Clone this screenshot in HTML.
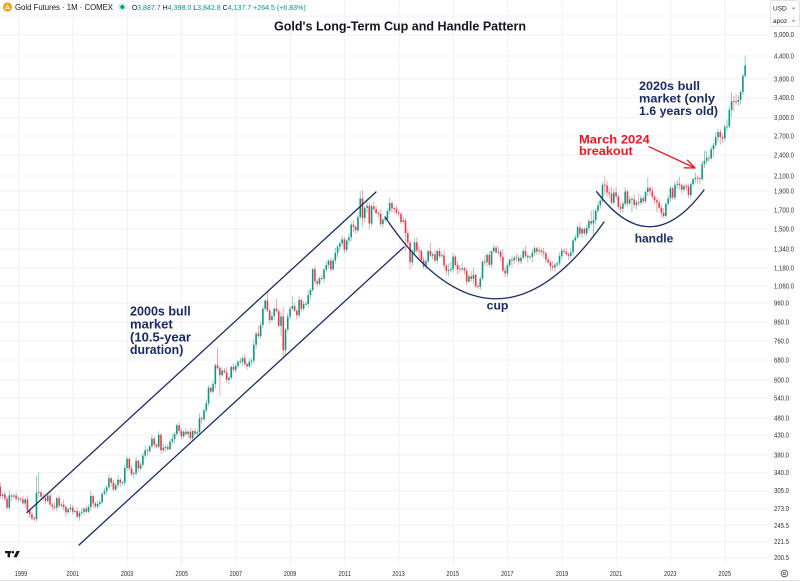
<!DOCTYPE html>
<html><head><meta charset="utf-8"><title>Gold's Long-Term Cup and Handle Pattern</title>
<style>
html,body{margin:0;padding:0;background:#fff;}
svg{display:block;font-family:"Liberation Sans",sans-serif;}
.ub{stroke:#089981;stroke-width:1.6;fill:none}
.uw{stroke:#089981;stroke-width:.8;stroke-opacity:.55;fill:none}
.db{stroke:#f23645;stroke-width:1.6;fill:none}
.dw{stroke:#f23645;stroke-width:.8;stroke-opacity:.55;fill:none}
</style></head><body>
<svg width="800" height="582" viewBox="0 0 800 582" xmlns="http://www.w3.org/2000/svg">
<rect width="800" height="582" fill="#ffffff"/>
<g stroke="#f0f2f7" stroke-width="1">
<line x1="0" x2="768" y1="16" y2="16"/>
<line x1="0" x2="768" y1="34.7" y2="34.7"/>
<line x1="0" x2="768" y1="56" y2="56"/>
<line x1="0" x2="768" y1="79" y2="79"/>
<line x1="0" x2="768" y1="97.7" y2="97.7"/>
<line x1="0" x2="768" y1="117.7" y2="117.7"/>
<line x1="0" x2="768" y1="136" y2="136"/>
<line x1="0" x2="768" y1="155" y2="155"/>
<line x1="0" x2="768" y1="176" y2="176"/>
<line x1="0" x2="768" y1="191" y2="191"/>
<line x1="0" x2="768" y1="210" y2="210"/>
<line x1="0" x2="768" y1="229" y2="229"/>
<line x1="0" x2="768" y1="249" y2="249"/>
<line x1="0" x2="768" y1="268" y2="268"/>
<line x1="0" x2="768" y1="286" y2="286"/>
<line x1="0" x2="768" y1="303" y2="303"/>
<line x1="0" x2="768" y1="322" y2="322"/>
<line x1="0" x2="768" y1="341" y2="341"/>
<line x1="0" x2="768" y1="360" y2="360"/>
<line x1="0" x2="768" y1="380" y2="380"/>
<line x1="0" x2="768" y1="398" y2="398"/>
<line x1="0" x2="768" y1="418" y2="418"/>
<line x1="0" x2="768" y1="435" y2="435"/>
<line x1="0" x2="768" y1="455" y2="455"/>
<line x1="0" x2="768" y1="472.7" y2="472.7"/>
<line x1="0" x2="768" y1="490.7" y2="490.7"/>
<line x1="0" x2="768" y1="508.3" y2="508.3"/>
<line x1="0" x2="768" y1="525.3" y2="525.3"/>
<line x1="0" x2="768" y1="541.7" y2="541.7"/>
<line x1="0" x2="768" y1="557.7" y2="557.7"/>
</g>
<g stroke="#f0f2f7" stroke-width="1">
<line x1="19" x2="19" y1="0" y2="566"/>
<line x1="73" x2="73" y1="0" y2="566"/>
<line x1="127.3" x2="127.3" y1="0" y2="566"/>
<line x1="181.7" x2="181.7" y1="0" y2="566"/>
<line x1="236" x2="236" y1="0" y2="566"/>
<line x1="290.4" x2="290.4" y1="0" y2="566"/>
<line x1="344.7" x2="344.7" y1="0" y2="566"/>
<line x1="399" x2="399" y1="0" y2="566"/>
<line x1="453.4" x2="453.4" y1="0" y2="566"/>
<line x1="507.7" x2="507.7" y1="0" y2="566"/>
<line x1="562" x2="562" y1="0" y2="566"/>
<line x1="616.4" x2="616.4" y1="0" y2="566"/>
<line x1="670.7" x2="670.7" y1="0" y2="566"/>
<line x1="725" x2="725" y1="0" y2="566"/>
</g>

<!-- candles -->
<g transform="translate(-8.8 0)">
<path class="uw" d="M11.32 492.9V499.5M18.11 490.5V510.6M22.64 494V498.6"/>
<path class="ub" d="M11.32 494.4V496M18.11 495.5V507.6M22.64 495.5V496.6"/>
<path class="dw" d="M6.79 483.7V490.8M9.06 482.8V498.5M13.58 491.4V500.8M15.85 496.3V509.1M20.38 493.5V501.1M24.9 492V501.3"/>
<path class="db" d="M6.79 485.7V486.8M9.06 486.8V496M13.58 494.4V498.8M15.85 498.8V507.6M20.38 495.5V496.6M24.9 495.5V498.8"/>
</g>
<g transform="translate(18.36 0)">
<path class="uw" d="M0 495.8V502.3M6.79 497.4V507.4M18.11 476V522.2M20.38 472.3V497.7"/>
<path class="ub" d="M0 498.3V499.3M6.79 499.4V503.4M18.11 492.7V519.2M20.38 491.9V492.9"/>
<path class="dw" d="M2.26 497.1V501.6M4.53 495.9V504.9M9.06 495.4V513M11.32 509V517.7M13.58 511.2V520.6M15.85 515.9V520.9M22.64 490.7V498.6M24.9 493.1V500.2"/>
<path class="db" d="M2.26 498.6V499.6M4.53 499.4V503.4M9.06 499.4V510.5M11.32 510.5V514.2M13.58 514.2V518.6M15.85 518.4V519.4M22.64 492.2V496.6M24.9 496.6V497.7"/>
</g>
<g transform="translate(45.53 0)">
<path class="uw" d="M2.26 494V503M11.32 496.8V511.1M15.85 502.1V507.3M22.64 507.8V514.3M24.9 504.1V511.8"/>
<path class="ub" d="M2.26 495.5V501M11.32 498.3V507.6M15.85 504.6V505.8M22.64 509.3V512.3M24.9 507.6V509.3"/>
<path class="dw" d="M0 495.2V504M4.53 492V506.1M6.79 502.6V510.4M9.06 502.4V510.1M13.58 495.3V507.8M18.11 499.6V510M20.38 505V516.8"/>
<path class="db" d="M0 497.7V501M4.53 495.5V504.6M6.79 504.6V506.4M9.06 506.4V507.6M13.58 498.3V505.8M18.11 504.6V507M20.38 507V512.3"/>
</g>
<g transform="translate(72.7 0)">
<path class="uw" d="M2.26 509.4V513.9M6.79 510.9V520.7M9.06 507.7V515.4M11.32 507.2V515.2M15.85 504.5V513.2M18.11 491V510M24.9 500.5V508.9"/>
<path class="ub" d="M2.26 510.9V511.9M6.79 512.9V516.7M9.06 511.7V512.9M11.32 508.7V511.7M15.85 507V511.7M18.11 496V507M24.9 504V506.4"/>
<path class="dw" d="M0 505.1V514.7M4.53 507.6V518.2M13.58 505.7V513.7M20.38 494V507.9M22.64 501.9V508.4"/>
<path class="db" d="M0 507.6V511.7M4.53 511.1V516.7M13.58 508.7V511.7M20.38 496V503.4M22.64 503.4V506.4"/>
</g>
<g transform="translate(99.87 0)">
<path class="uw" d="M0 499.7V507M2.26 492.3V504.2M4.53 487.6V495.3M6.79 485.3V495.1M9.06 474.2V489.8M15.85 482.7V491M18.11 474.7V488.2M22.64 480.7V485.2M24.9 464.5V485.2"/>
<path class="ub" d="M0 502.2V504M2.26 493.8V502.2M4.53 491.1V493.8M6.79 487.3V491.1M9.06 478.2V487.3M15.85 485.2V489.5M18.11 479.7V485.2M22.64 482.2V483.2M24.9 468V482.7"/>
<path class="dw" d="M11.32 476.7V486.2M13.58 479.7V491.5M20.38 477.7V487.2"/>
<path class="db" d="M11.32 478.2V482.7M13.58 482.7V489.5M20.38 479.7V482.7"/>
</g>
<g transform="translate(127.04 0)">
<path class="uw" d="M0 456.4V471M6.79 471.3V478.2M9.06 456.7V475.8M13.58 461.8V470.5M15.85 453.1V466.3M18.11 445.3V458.6M22.64 444.7V453.2M24.9 435.1V448.7"/>
<path class="ub" d="M0 458.9V468M6.79 473.3V474.2M9.06 460.7V473.3M13.58 464.8V468.5M15.85 455.6V464.8M18.11 450.3V455.6M22.64 446.2V451.2M24.9 438.6V446.2"/>
<path class="dw" d="M2.26 457.4V470.5M4.53 465V475.7M11.32 459.2V472M20.38 448.3V455.7"/>
<path class="db" d="M2.26 458.9V468.5M4.53 468.5V474.2M11.32 460.7V468.5M20.38 450.3V451.2"/>
</g>
<g transform="translate(154.21 0)">
<path class="uw" d="M4.53 431.3V448.1M9.06 443.8V452.8M11.32 445.4V451.4M15.85 439.3V450.6M18.11 434V444.8M20.38 432.1V443.5M22.64 423.7V436.1"/>
<path class="ub" d="M4.53 434.8V446.6M9.06 447.8V450.3M11.32 446.9V447.9M15.85 441.8V449.1M18.11 439V441.8M20.38 434.1V439M22.64 425.2V434.1"/>
<path class="dw" d="M0 436.1V447.6M2.26 443.1V448.6M6.79 432.8V454.3M13.58 444V451.1M24.9 421.7V433.2"/>
<path class="db" d="M0 438.6V444.6M2.26 444.6V446.6M6.79 434.8V450.3M13.58 447V449.1M24.9 425.2V430.7"/>
</g>
<g transform="translate(181.38 0)">
<path class="uw" d="M2.26 430.3V438.4M6.79 429.8V438.1M11.32 429.6V441.8M15.85 429.7V435.2M18.11 413.2V435.2M22.64 408.9V421.2M24.9 399.8V412.9"/>
<path class="ub" d="M2.26 431.8V436.4M6.79 431.8V434.1M11.32 431.1V438.3M15.85 432.2V433.7M18.11 418.2V432.2M22.64 410.4V419.2M24.9 403.3V410.4"/>
<path class="dw" d="M0 428.2V439.4M4.53 428.3V435.6M9.06 427.8V440.8M13.58 428.1V435.7M20.38 416.2V423.7"/>
<path class="db" d="M0 430.7V436.4M4.53 431.8V434.1M9.06 431.8V438.3M13.58 431.1V433.7M20.38 418.2V419.2"/>
</g>
<g transform="translate(208.55 0)">
<path class="uw" d="M0 385.3V406.3M4.53 380.6V393.1M6.79 363.2V388.1M13.58 367.5V377.2M20.38 375.8V384.2M22.64 365.4V379.8"/>
<path class="ub" d="M0 387.8V403.3M4.53 384.1V391.6M6.79 365.2V384.1M13.58 370.5V375.2M20.38 377.8V379.7M22.64 366.9V377.8"/>
<path class="dw" d="M2.26 386.3V393.6M9.06 347.2V370.4M11.32 366.4V395.7M15.85 368V373.8M18.11 367.3V382.7M24.9 363.4V372.4"/>
<path class="db" d="M2.26 387.8V391.6M9.06 365.2V367.9M11.32 367.9V375.2M15.85 370.5V372.3M18.11 372.3V379.7M24.9 366.9V369.9"/>
</g>
<g transform="translate(235.72 0)">
<path class="uw" d="M0 363.5V372.9M2.26 360.3V368M4.53 357.8V363.8M6.79 356.2V365.8M13.58 358.8V368.3M15.85 358.1V366M18.11 339.8V363.6M20.38 331.6V349.3M24.9 321.6V338.6"/>
<path class="ub" d="M0 366V369.9M2.26 361.8V366M4.53 361.3V362.3M6.79 358.2V361.8M13.58 361.8V366.3M15.85 360.6V361.8M18.11 344.8V360.6M20.38 333.6V344.8M24.9 325.1V336.1"/>
<path class="dw" d="M9.06 354.2V366.5M11.32 362.5V369.8M22.64 326V338.1"/>
<path class="db" d="M9.06 358.2V364M11.32 364V366.3M22.64 333.6V336.1"/>
</g>
<g transform="translate(262.89 0)">
<path class="uw" d="M0 306.2V328.1M2.26 299.1V310.7M9.06 312.1V322.5M11.32 307.2V319.6M18.11 311.5V336M22.64 328V355M24.9 313V332"/>
<path class="ub" d="M0 308.7V325.1M2.26 300.6V308.7M9.06 316.1V320M11.32 308.7V316.1M18.11 316.5V325.8M22.64 329.5V350.2M24.9 316.5V329.5"/>
<path class="dw" d="M4.53 291.1V312.1M6.79 308.6V324M13.58 299V313.2M15.85 308.7V327.3M20.38 307.4V358.9"/>
<path class="db" d="M4.53 300.6V310.6M6.79 310.6V320M13.58 308.7V311.2M15.85 311.2V325.8M20.38 316.5V350.2"/>
</g>
<g transform="translate(290.06 0)">
<path class="uw" d="M0 306.2V319.5M2.26 296V310.7M9.06 295.9V317.7M13.58 301.1V310.8M15.85 301.5V305.5M18.11 290.1V307M20.38 288V299.6M22.64 267.8V292"/>
<path class="ub" d="M0 308.7V316.5M2.26 306V308.7M9.06 299.9V315.2M13.58 304.1V308.8M15.85 303.6V304.6M18.11 295.1V304M20.38 290V295.1M22.64 269.3V290"/>
<path class="dw" d="M4.53 302.5V312.1M6.79 308.6V319.2M11.32 298.4V312.3M24.9 265.8V283.8"/>
<path class="db" d="M4.53 306V310.6M6.79 310.6V315.2M11.32 299.9V308.8M24.9 269.3V281.3"/>
</g>
<g transform="translate(317.23 0)">
<path class="uw" d="M2.26 276.8V285.7M6.79 267.6V282.7M9.06 261V272.3M11.32 259.3V268.5M15.85 257.9V270.9M18.11 247.9V263.4M20.38 244.8V257.4M22.64 241.9V250.8M24.9 235.9V245.9"/>
<path class="ub" d="M2.26 278.3V283.7M6.79 269.6V278.7M9.06 265V269.6M11.32 260.8V265M15.85 260.4V269.4M18.11 252.9V260.4M20.38 246.8V252.9M22.64 243.4V246.8M24.9 239.4V243.4"/>
<path class="dw" d="M0 278.8V286.7M4.53 274.5V280.5M13.58 257.8V271.4"/>
<path class="db" d="M0 281.3V283.7M4.53 278V279M13.58 260.8V269.4"/>
</g>
<g transform="translate(344.4 0)">
<path class="uw" d="M2.26 239V251.8M4.53 233.8V245M6.79 222.6V241.3M13.58 214.1V232.5M15.85 191.1V218.6M20.38 205.9V222.5M22.64 200V213"/>
<path class="ub" d="M2.26 240.5V249.8M4.53 237.3V240.5M6.79 224.6V237.3M13.58 217.1V230.5M15.85 198.5V217.1M20.38 207.9V218M22.64 205.8V207.9"/>
<path class="dw" d="M0 236.9V252.8M9.06 220.6V232M11.32 225.2V234M18.11 190V226.8M24.9 202.3V229"/>
<path class="db" d="M0 239.4V249.8M9.06 224.6V226.7M11.32 226.7V230.5M18.11 198.5V218M24.9 205.8V223.5"/>
</g>
<g transform="translate(371.57 0)">
<path class="uw" d="M0 203.8V226.5M11.32 218.1V227.6M13.58 216V222.5M15.85 208.5V220.5M18.11 198V214"/>
<path class="ub" d="M0 206.3V223.5M11.32 219.6V224.1M13.58 218.8V219.8M15.85 211V219M18.11 203V211"/>
<path class="dw" d="M2.26 201.5V211.1M4.53 205.6V214.6M6.79 211.1V217.6M9.06 209.6V226.6M20.38 201V212.8M22.64 206.5V213M24.9 205.3V215"/>
<path class="db" d="M2.26 206.3V209.1M4.53 209.1V213.1M6.79 212.9V213.9M9.06 213.6V224.1M20.38 203V208.3M22.64 208V209M24.9 208.8V212.5"/>
</g>
<g transform="translate(398.74 0)">
<path class="uw" d="M4.53 216.9V223.6M13.58 249.2V266M15.85 237.8V253.7"/>
<path class="ub" d="M4.53 220.4V222.1M13.58 252.2V262.2M15.85 242.3V252.2"/>
<path class="dw" d="M0 210V216.7M2.26 212.2V224.1M6.79 218.4V251.1M9.06 229.2V245M11.32 241V269.8M18.11 237.3V253.4M20.38 246.3V260M22.64 249.4V262.1M24.9 256.6V269"/>
<path class="db" d="M0 212.5V213.7M2.26 213.7V222.1M6.79 220.4V233.2M9.06 233.2V242.5M11.32 242.5V262.2M18.11 242.3V250.4M20.38 250.2V251.2M22.64 250.9V260.1M24.9 260.1V266.5"/>
</g>
<g transform="translate(425.91 0)">
<path class="uw" d="M0 258.9V269.5M2.26 249.6V263.4M6.79 252.3V259.8M11.32 249.5V264.1M15.85 252.8V257.6M22.64 263.5V276.4M24.9 262V272.8"/>
<path class="ub" d="M0 261.4V266.5M2.26 251.1V261.4M6.79 254.3V255.8M11.32 251V260.6M15.85 255.2V256.2M22.64 270.1V271.1M24.9 269.1V270.3"/>
<path class="dw" d="M4.53 242.7V257.3M9.06 250.3V263.1M13.58 248V258.1M18.11 250.4V268.5M20.38 263.5V275.4"/>
<path class="db" d="M4.53 251.1V255.8M9.06 254.3V260.6M13.58 251V256.1M18.11 255.4V265.5M20.38 265.5V270.9"/>
</g>
<g transform="translate(453.08 0)">
<path class="uw" d="M0 252.9V272.1M9.06 263V271.8M15.85 273.8V283.3M20.38 268V283.4"/>
<path class="ub" d="M0 256.5V269.1M9.06 268.2V269.3M15.85 276.3V281.8M20.38 275V278.9"/>
<path class="dw" d="M2.26 255V267M4.53 261.5V274.9M6.79 265V273.3M11.32 266.7V274.2M13.58 267.7V285.3M18.11 271.3V281.9M22.64 273.5V288.3M24.9 283V289.2"/>
<path class="db" d="M2.26 256.5V265M4.53 265V269.2M6.79 268.8V269.8M11.32 268.2V270.7M13.58 270.7V281.8M18.11 276.3V278.9M22.64 275V286.3M24.9 286.1V287.1"/>
</g>
<g transform="translate(480.25 0)">
<path class="uw" d="M0 276.1V289.9M2.26 260.2V280.6M6.79 253V266.2M11.32 249.7V268.2M13.58 244.4V253.2M18.11 247V255.4"/>
<path class="ub" d="M0 278.6V286.9M2.26 261.7V278.6M6.79 255V262.2M11.32 251.2V264.7M13.58 247.6V251.2M18.11 251.6V252.6"/>
<path class="dw" d="M4.53 255.4V265.8M9.06 251V267.2M15.85 245.1V253.9M20.38 249.8V261.4M22.64 249V272.6M24.9 267.1V277.4"/>
<path class="db" d="M4.53 261.4V262.4M9.06 255V264.7M15.85 247.6V252.4M20.38 251.8V256.9M22.64 256.9V270.6M24.9 270.6V273.4"/>
</g>
<g transform="translate(507.42 0)">
<path class="uw" d="M0 262.8V276.4M2.26 258.2V267.3M6.79 255.8V264.2M9.06 253.8V262M13.58 254.7V264M15.85 248.5V259.2M22.64 255.4V259.4M24.9 249.2V262"/>
<path class="ub" d="M0 265.3V273.4M2.26 259.7V265.3M6.79 257.8V260.2M9.06 257.3V258.3M13.58 257.7V261.2M15.85 251V257.7M22.64 256.6V257.6M24.9 252.7V256.9"/>
<path class="dw" d="M4.53 256.2V267.4M11.32 255V264.7M18.11 246V258.8M20.38 253.8V261.9"/>
<path class="db" d="M4.53 259.5V260.5M11.32 257.8V261.2M18.11 251V255.8M20.38 255.8V257.4"/>
</g>
<g transform="translate(534.59 0)">
<path class="uw" d="M0 245.7V255.7M4.53 246.9V255M20.38 262.7V271.9M22.64 261.7V266.7M24.9 252.6V265.7"/>
<path class="ub" d="M0 248.2V252.7M4.53 250.4V251.5M20.38 264.7V267.4M22.64 263.2V264.7M24.9 256.1V263.2"/>
<path class="dw" d="M2.26 246.7V255M6.79 248.4V255.8M9.06 247.8V257M11.32 251.6V263.2M13.58 256.7V264.3M15.85 259.8V271.4M18.11 261V270.4"/>
<path class="db" d="M2.26 248.2V251.5M6.79 250.4V251.8M9.06 251.8V253.1M11.32 253.1V259.7M13.58 259.7V262.3M15.85 262.3V266M18.11 266V267.4"/>
</g>
<g transform="translate(561.76 0)">
<path class="uw" d="M0 248.2V259.1M9.06 248.4V258.2M11.32 238.7V255.9M13.58 234.5V242.2M15.85 224.9V239M20.38 227V238.1M24.9 224.5V236"/>
<path class="ub" d="M0 250.7V256.1M9.06 252.4V255.7M11.32 240.2V252.4M13.58 237.5V240.2M15.85 227.4V237.5M20.38 229V233.6M24.9 228V233.5"/>
<path class="dw" d="M2.26 247.7V253.8M4.53 248.3V255.6M6.79 252.1V259.7M18.11 222.4V236.6M22.64 227.5V235.5"/>
<path class="db" d="M2.26 250.7V251.8M4.53 251.8V254.1M6.79 254.1V255.7M18.11 227.4V233.6M22.64 229V233.5"/>
</g>
<g transform="translate(588.93 0)">
<path class="uw" d="M0 218.6V231M4.53 209.7V236M6.79 208.7V224.4M9.06 201.3V213.2M11.32 199.3V208.8M13.58 181.8V202.8M24.9 189V205.1"/>
<path class="ub" d="M0 221.1V228M4.53 220.4V223.5M6.79 210.7V220.4M9.06 205.3V210.7M11.32 200.8V205.3M13.58 184.8V200.8M24.9 192.5V202.6"/>
<path class="dw" d="M2.26 211V226M15.85 176.6V194.4M18.11 180.5V197M20.38 188V198.3M22.64 186.6V204.6"/>
<path class="db" d="M2.26 221.1V223.5M15.85 184.6V185.6M18.11 185.5V192.5M20.38 192.5V193.8M22.64 193.8V202.6"/>
</g>
<g transform="translate(616.1 0)">
<path class="uw" d="M6.79 201.7V212.8M9.06 187.5V206.2M13.58 196.3V205.5M15.85 196.7V212.3M20.38 200.4V209.3M24.9 194.8V205.5"/>
<path class="ub" d="M6.79 203.7V208.8M9.06 191.5V203.7M13.58 199.3V203.5M15.85 198.7V199.7M20.38 202.4V204.8M24.9 198.3V203"/>
<path class="dw" d="M0 187.2V199.4M2.26 194.9V208.9M4.53 203.4V212.7M11.32 190V207M18.11 194.2V207.8M22.64 194V206"/>
<path class="db" d="M0 192.5V196.4M2.26 196.4V206.9M4.53 206.9V208.8M11.32 191.5V203.5M18.11 199.2V204.8M22.64 202.2V203.2"/>
</g>
<g transform="translate(643.27 0)">
<path class="uw" d="M2.26 190.5V203.2M4.53 177.5V196M22.64 202.2V218M24.9 195V206.2"/>
<path class="ub" d="M2.26 192V201.2M4.53 187.9V192M22.64 203.7V216M24.9 198.5V203.7"/>
<path class="dw" d="M0 195.8V204.2M6.79 185.9V195.1M9.06 187.1V199.1M11.32 195.1V203.7M13.58 197.2V212.3M15.85 198.7V209.2M18.11 205V217.6M20.38 208V218.3"/>
<path class="db" d="M0 198.3V201.2M6.79 187.9V191.1M9.06 191.1V196.6M11.32 196.6V200.2M13.58 200.2V202.5M15.85 202.5V207.7M18.11 207.7V212.8M20.38 212.8V216"/>
</g>
<g transform="translate(670.44 0)">
<path class="uw" d="M0 185.7V201.5M4.53 181.3V200M6.79 179.7V188.8M13.58 183.2V191.6M20.38 182.2V199.5M22.64 177.6V186.2M24.9 172.2V183"/>
<path class="ub" d="M0 188.2V198.5M4.53 184.8V197.6M6.79 183.8V184.8M13.58 186.2V189.6M20.38 184.2V195M22.64 179.1V184.2M24.9 178V179.1"/>
<path class="dw" d="M2.26 186.7V199.6M9.06 176.9V189.4M11.32 183.6V193.1M15.85 183.7V190.8M18.11 183.5V198"/>
<path class="db" d="M2.26 188.2V197.6M9.06 183.8V185.1M11.32 185.1V189.6M15.85 185.9V186.9M18.11 186.5V195"/>
</g>
<g transform="translate(697.61 0)">
<path class="uw" d="M4.53 160.8V180.8M6.79 150.9V168.3M9.06 150.5V164M13.58 146.3V160.3M15.85 142.6V156.5M18.11 132.3V148.1M20.38 128.9V141.8"/>
<path class="ub" d="M4.53 164.3V179.3M6.79 160.9V164.3M9.06 157.9V160.9M13.58 149.3V158.3M15.85 145.1V149.3M18.11 137.3V145.1M20.38 132V137.3"/>
<path class="dw" d="M0 175.5V183.6M2.26 176.8V184M11.32 155V162M22.64 129V144.7M24.9 133.5V143"/>
<path class="db" d="M0 177.7V178.7M2.26 178.3V179.3M11.32 157.6V158.6M22.64 132V137M24.9 137V138.4"/>
</g>
<g transform="translate(724.78 0)">
<path class="uw" d="M0 124.5V141.4M2.26 119.3V131M4.53 106.4V128M6.79 92.3V117M13.58 95V106M15.85 90.1V104.5M18.11 74V95M20.38 55.6V77.6"/>
<path class="ub" d="M0 127V138.4M2.26 126.3V127.3M4.53 109.9V126.3M6.79 101.3V109.9M13.58 99.9V101.9M15.85 92V99.9M18.11 75.7V92M20.38 65.5V75.7"/>
<path class="dw" d="M9.06 95.7V111.4M11.32 94V104.9"/>
<path class="db" d="M9.06 100.9V101.9M11.32 101.2V102.2"/>
</g>

<!-- channel lines and arcs -->
<g stroke="#1a2a6c" stroke-width="1.3" fill="none" stroke-linecap="round">
<line x1="27" y1="512.5" x2="376" y2="192"/>
<line x1="79" y1="545" x2="404" y2="247"/>
<path d="M385 217 Q494 378 604 222"/>
<path d="M596.7 191.7 Q650 262.6 704 190"/>
</g>
<g stroke="#f0141e" stroke-width="1.3" fill="none" stroke-linecap="round" stroke-linejoin="round">
<line x1="649" y1="146.7" x2="695" y2="168"/>
<polyline points="687.5,160.2 695,168 684.3,167.8"/>
</g>

<!-- annotations -->
<g font-weight="bold" fill="#1a2a6c" font-size="12.5">
<text x="130" y="315.7" textLength="60.7" lengthAdjust="spacingAndGlyphs">2000s bull</text>
<text x="130" y="328.5" textLength="42.7" lengthAdjust="spacingAndGlyphs">market</text>
<text x="130" y="341.3" textLength="61" lengthAdjust="spacingAndGlyphs">(10.5-year</text>
<text x="130" y="354" textLength="53.3" lengthAdjust="spacingAndGlyphs">duration)</text>
<text x="639" y="90" font-size="12" textLength="61" lengthAdjust="spacingAndGlyphs">2020s bull</text>
<text x="639" y="102.7" font-size="12" textLength="76" lengthAdjust="spacingAndGlyphs">market (only</text>
<text x="639" y="115" font-size="12" textLength="79" lengthAdjust="spacingAndGlyphs">1.6 years old)</text>
<text x="634.7" y="242.7" font-size="12" textLength="38.6" lengthAdjust="spacingAndGlyphs">handle</text>
<text x="486.7" y="309.3" font-size="12" textLength="21.7" lengthAdjust="spacingAndGlyphs">cup</text>
</g>
<g font-weight="bold" fill="#f0141e" font-size="12">
<text x="579" y="143.3" textLength="70.7" lengthAdjust="spacingAndGlyphs">March 2024</text>
<text x="579" y="155" textLength="53.7" lengthAdjust="spacingAndGlyphs">breakout</text>
</g>

<text x="274" y="30.5" font-size="12.5" font-weight="bold" fill="#131722" textLength="252" lengthAdjust="spacingAndGlyphs">Gold's Long-Term Cup and Handle Pattern</text>

<!-- header -->
<circle cx="7.5" cy="7" r="4.6" fill="#f2a61f"/>
<path d="M5 9 L7.5 4.8 L10 9 Z" fill="#fff"/>
<path d="M6.3 8.3 L7.5 6.4 L8.7 8.3 Z" fill="#f2a61f"/>
<text x="15" y="10" font-size="8" fill="#131722" textLength="98" lengthAdjust="spacingAndGlyphs">Gold Futures · 1M · COMEX</text>
<circle cx="122.3" cy="7" r="4.5" fill="#d3efe8"/>
<circle cx="122.3" cy="7" r="2" fill="#089981"/>
<text x="131.7" y="10" font-size="7.2" fill="#089981" textLength="174" lengthAdjust="spacingAndGlyphs"><tspan fill="#131722">O</tspan>3,887.7 <tspan fill="#131722">H</tspan>4,398.0 <tspan fill="#131722">L</tspan>3,842.8 <tspan fill="#131722">C</tspan>4,137.7 +264.5 (+6.83%)</text>

<!-- price axis -->
<rect x="770.5" y="0.5" width="29" height="26" fill="#fff" stroke="#e0e3eb" stroke-width="1" rx="1.5"/>
<g font-size="6.5" fill="#131722">
<text x="773" y="10.5">USD</text>
<text x="773" y="23">apoz</text>
</g>
<g stroke="#6a6d78" stroke-width="0.7" fill="none">
<polyline points="792,7.5 793.5,9 795,7.5"/>
<polyline points="792,20 793.5,21.5 795,20"/>
</g>
<g font-size="7.5" fill="#2a2e39" dominant-baseline="central">
<text x="774" y="34.7" textLength="20" lengthAdjust="spacingAndGlyphs">5,000.0</text>
<text x="774" y="56" textLength="20" lengthAdjust="spacingAndGlyphs">4,400.0</text>
<text x="774" y="79" textLength="20" lengthAdjust="spacingAndGlyphs">3,800.0</text>
<text x="774" y="97.7" textLength="20" lengthAdjust="spacingAndGlyphs">3,400.0</text>
<text x="774" y="117.7" textLength="20" lengthAdjust="spacingAndGlyphs">3,000.0</text>
<text x="774" y="136" textLength="20" lengthAdjust="spacingAndGlyphs">2,700.0</text>
<text x="774" y="155" textLength="20" lengthAdjust="spacingAndGlyphs">2,400.0</text>
<text x="774" y="176" textLength="20" lengthAdjust="spacingAndGlyphs">2,100.0</text>
<text x="774" y="191" textLength="20" lengthAdjust="spacingAndGlyphs">1,900.0</text>
<text x="774" y="210" textLength="20" lengthAdjust="spacingAndGlyphs">1,700.0</text>
<text x="774" y="229" textLength="20" lengthAdjust="spacingAndGlyphs">1,500.0</text>
<text x="774" y="249" textLength="20" lengthAdjust="spacingAndGlyphs">1,340.0</text>
<text x="774" y="268" textLength="20" lengthAdjust="spacingAndGlyphs">1,180.0</text>
<text x="774" y="286" textLength="20" lengthAdjust="spacingAndGlyphs">1,060.0</text>
<text x="774" y="303" textLength="15" lengthAdjust="spacingAndGlyphs">960.0</text>
<text x="774" y="322" textLength="15" lengthAdjust="spacingAndGlyphs">860.0</text>
<text x="774" y="341" textLength="15" lengthAdjust="spacingAndGlyphs">760.0</text>
<text x="774" y="360" textLength="15" lengthAdjust="spacingAndGlyphs">680.0</text>
<text x="774" y="380" textLength="15" lengthAdjust="spacingAndGlyphs">600.0</text>
<text x="774" y="398" textLength="15" lengthAdjust="spacingAndGlyphs">540.0</text>
<text x="774" y="418" textLength="15" lengthAdjust="spacingAndGlyphs">480.0</text>
<text x="774" y="435" textLength="15" lengthAdjust="spacingAndGlyphs">430.0</text>
<text x="774" y="455" textLength="15" lengthAdjust="spacingAndGlyphs">380.0</text>
<text x="774" y="472.7" textLength="15" lengthAdjust="spacingAndGlyphs">340.0</text>
<text x="774" y="490.7" textLength="15" lengthAdjust="spacingAndGlyphs">305.0</text>
<text x="774" y="508.3" textLength="15" lengthAdjust="spacingAndGlyphs">273.0</text>
<text x="774" y="525.3" textLength="15" lengthAdjust="spacingAndGlyphs">245.5</text>
<text x="774" y="541.7" textLength="15" lengthAdjust="spacingAndGlyphs">221.5</text>
<text x="774" y="557.7" textLength="15" lengthAdjust="spacingAndGlyphs">200.5</text>
</g>

<!-- time axis -->
<g font-size="7.5" fill="#2a2e39" text-anchor="middle" dominant-baseline="central">
<text x="21" y="573.7" textLength="12.5" lengthAdjust="spacingAndGlyphs">1999</text>
<text x="72.7" y="573.7" textLength="12.5" lengthAdjust="spacingAndGlyphs">2001</text>
<text x="127" y="573.7" textLength="12.5" lengthAdjust="spacingAndGlyphs">2003</text>
<text x="181.7" y="573.7" textLength="12.5" lengthAdjust="spacingAndGlyphs">2005</text>
<text x="235.7" y="573.7" textLength="12.5" lengthAdjust="spacingAndGlyphs">2007</text>
<text x="290" y="573.7" textLength="12.5" lengthAdjust="spacingAndGlyphs">2009</text>
<text x="344.7" y="573.7" textLength="12.5" lengthAdjust="spacingAndGlyphs">2011</text>
<text x="398.5" y="573.7" textLength="12.5" lengthAdjust="spacingAndGlyphs">2013</text>
<text x="452.7" y="573.7" textLength="12.5" lengthAdjust="spacingAndGlyphs">2015</text>
<text x="507.3" y="573.7" textLength="12.5" lengthAdjust="spacingAndGlyphs">2017</text>
<text x="562" y="573.7" textLength="12.5" lengthAdjust="spacingAndGlyphs">2019</text>
<text x="616" y="573.7" textLength="12.5" lengthAdjust="spacingAndGlyphs">2021</text>
<text x="670.3" y="573.7" textLength="12.5" lengthAdjust="spacingAndGlyphs">2023</text>
<text x="724.7" y="573.7" textLength="12.5" lengthAdjust="spacingAndGlyphs">2025</text>
</g>
<line x1="0" x2="800" y1="580.5" y2="580.5" stroke="#e0e3eb" stroke-width="1"/>
<circle cx="784.5" cy="573.5" r="3.3" fill="none" stroke="#4a4e5a" stroke-width="0.8"/>
<circle cx="784.5" cy="573.5" r="1.2" fill="none" stroke="#4a4e5a" stroke-width="0.7"/>

<g fill="#131722">
<rect x="5" y="551" width="6" height="2.2"/>
<rect x="7.6" y="551" width="2.4" height="6.3"/>
<circle cx="12.8" cy="552.2" r="1.3"/>
<path d="M16.5 551 L19.8 551 L16.8 557.3 L13.6 557.3 Z"/>
</g>
</svg>
</body></html>
